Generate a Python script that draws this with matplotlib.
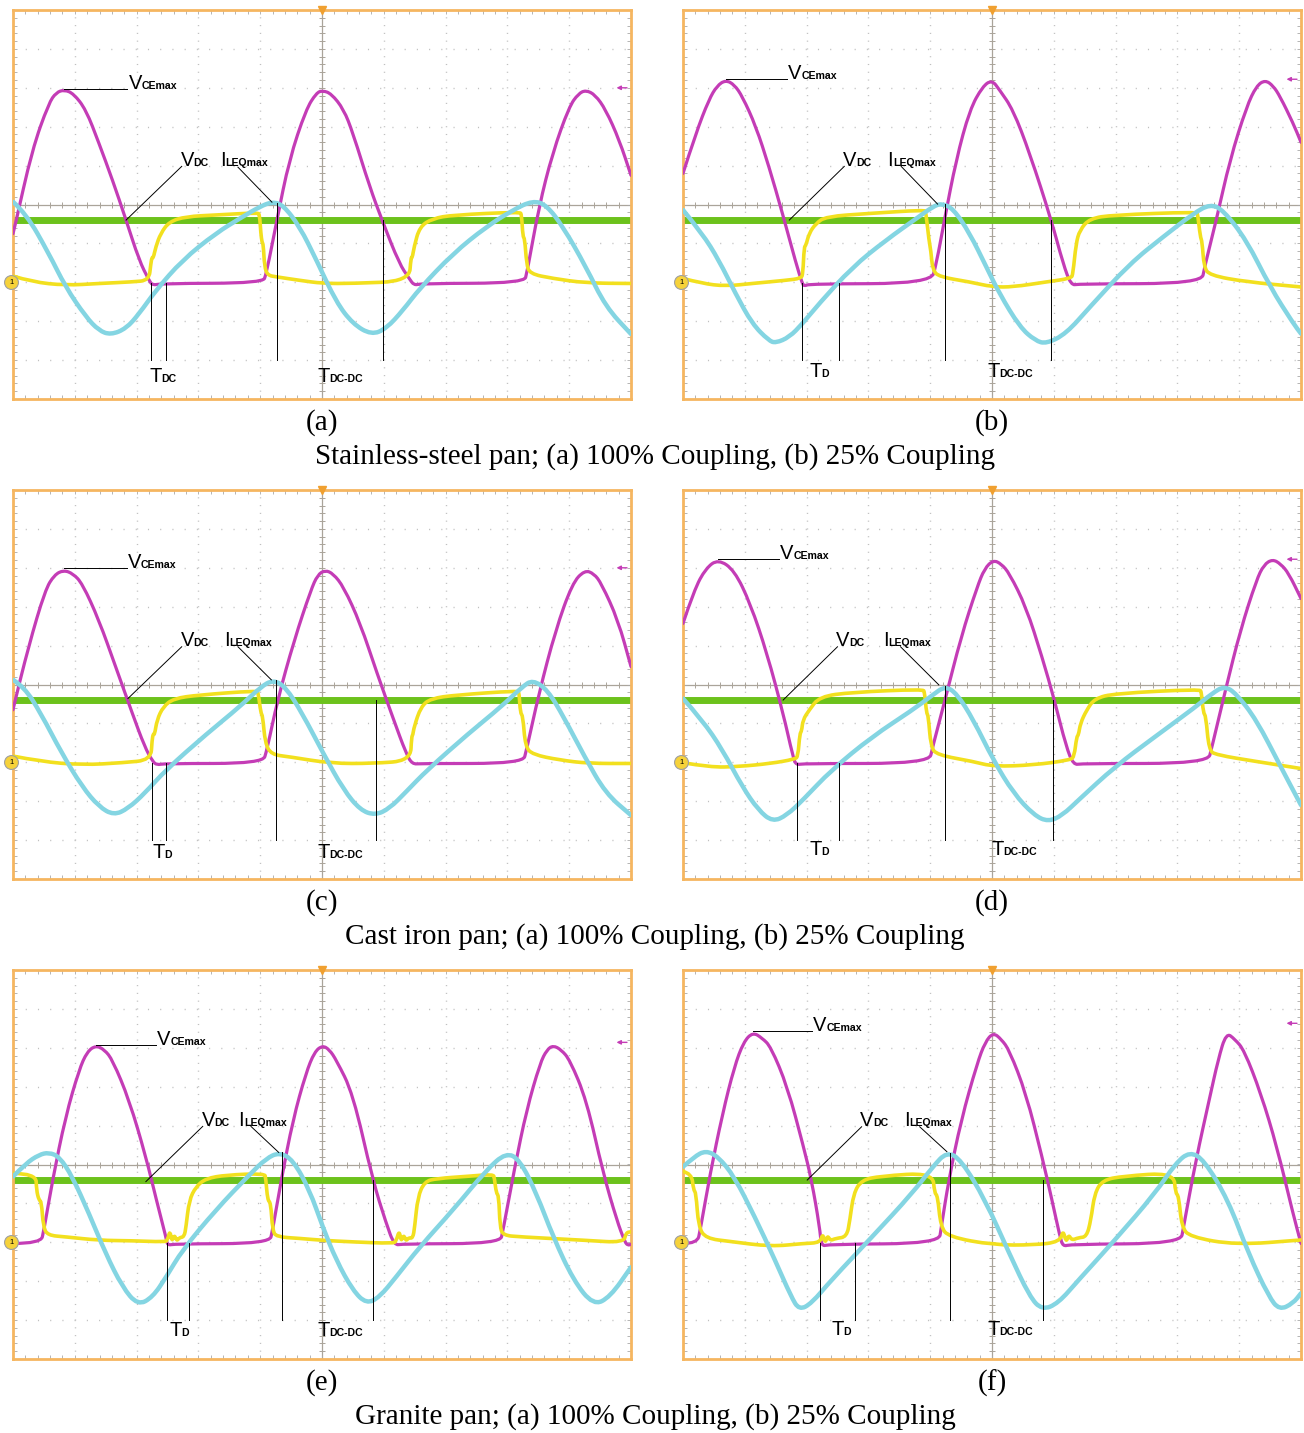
import matplotlib
matplotlib.use("Agg")
import matplotlib.pyplot as plt
from matplotlib.path import Path
from matplotlib.patches import PathPatch
import numpy as np

# ---- waveform data read off the scope shots: (time in div, level in div) ----
# panel (a) stainless-steel, 100 %
vce_a = [(0.0, -0.75), (0.03, -0.57), (0.31, 1.41), (0.58, 2.61), (0.70, 2.88), (0.83, 2.95), (0.98, 2.85),
         (1.18, 2.44), (1.39, 1.58), (1.61, 0.63), (1.83, -0.40), (2.04, -1.43), (2.20, -1.95), (2.26, -2.08),
         (2.40, -2.03), (4.04, -2.02), (4.10, -1.78), (4.27, -0.40), (4.47, 1.15), (4.74, 2.44), (4.91, 2.87),
         (5.01, 2.93), (5.15, 2.85), (5.35, 2.45), (5.50, 1.84), (5.77, 0.46), (5.98, -0.44), (6.25, -1.52),
         (6.41, -1.90), (6.49, -2.08), (6.60, -2.03), (8.27, -2.02), (8.32, -1.73), (8.51, -0.06), (8.73, 1.32),
         (9.00, 2.52), (9.15, 2.85), (9.27, 2.94), (9.42, 2.82), (9.59, 2.44), (9.81, 1.66), (10.0, 0.75)]
cur_a = [(0.0, 0.07), (0.21, -0.23), (0.58, -1.26), (0.85, -2.12), (1.18, -2.89), (1.39, -3.24), (1.58, -3.35),
         (1.83, -3.19), (2.04, -2.81), (2.31, -2.21), (2.74, -1.43), (3.28, -0.74), (3.72, -0.31), (3.99, -0.06),
         (4.19, 0.07), (4.37, -0.01), (4.64, -0.57), (4.91, -1.43), (5.23, -2.51), (5.50, -3.07), (5.80, -3.35),
         (6.04, -3.19), (6.31, -2.72), (6.58, -2.16), (7.12, -1.26), (7.66, -0.57), (8.09, -0.14), (8.41, 0.10),
         (8.63, -0.01), (8.90, -0.57), (9.27, -1.60), (9.59, -2.63), (10.0, -3.33)]
gate_a = [(0.0, -1.84), (0.31, -1.99), (0.85, -2.08), (1.39, -2.03), (1.93, -1.99), (2.20, -1.95), (2.23, -1.52),
          (2.25, -1.35), (2.27, -1.38), (2.31, -1.09), (2.39, -0.74), (2.53, -0.44), (2.80, -0.31), (3.28, -0.27),
          (3.96, -0.21), (3.99, -0.26), (4.01, -0.74), (4.03, -0.98), (4.05, -1.02), (4.07, -1.60), (4.12, -1.82),
          (4.26, -1.86), (4.64, -1.95), (5.01, -2.03), (5.50, -2.03), (6.41, -1.97), (6.44, -1.35), (6.46, -1.38),
          (6.49, -1.09), (6.58, -0.57), (6.79, -0.36), (7.12, -0.27), (8.20, -0.19), (8.23, -0.26), (8.25, -0.83),
          (8.28, -0.87), (8.31, -1.52), (8.36, -1.78), (8.73, -1.90), (9.27, -2.02), (10.0, -2.03)]

# panel (b) stainless-steel, 25 %
vce_b = [(0.0, 0.80), (0.21, 1.84), (0.42, 2.70), (0.55, 3.05), (0.69, 3.20), (0.83, 3.08), (0.96, 2.78),
         (1.18, 2.01), (1.39, 0.98), (1.61, -0.23), (1.83, -1.52), (1.93, -2.03), (1.96, -2.10), (2.05, -2.04),
         (4.01, -2.03), (4.10, -1.52), (4.23, -0.40), (4.42, 1.15), (4.64, 2.44), (4.85, 3.04), (5.00, 3.20),
         (5.12, 2.95), (5.34, 2.44), (5.61, 1.32), (5.96, -0.40), (6.15, -1.52), (6.28, -2.08), (6.40, -2.04),
         (8.39, -2.03), (8.44, -1.60), (8.63, -0.40), (8.85, 1.15), (9.12, 2.52), (9.28, 3.05), (9.42, 3.20),
         (9.55, 3.05), (9.66, 2.78), (9.87, 2.10), (10.0, 1.60)]
cur_b = [(0.0, -0.14), (0.31, -0.74), (0.58, -1.43), (0.85, -2.29), (1.12, -3.07), (1.39, -3.50), (1.50, -3.56),
         (1.72, -3.41), (1.93, -3.07), (2.20, -2.55), (2.74, -1.61), (3.28, -0.92), (3.82, -0.31), (4.04, -0.06),
         (4.18, 0.03), (4.37, -0.10), (4.64, -0.74), (4.91, -1.61), (5.12, -2.29), (5.45, -3.15), (5.70, -3.50),
         (5.88, -3.58), (6.20, -3.32), (6.58, -2.64), (7.23, -1.52), (7.77, -0.83), (8.26, -0.23), (8.53, 0.01),
         (8.74, -0.14), (9.12, -0.92), (9.50, -2.12), (9.88, -3.07), (10.0, -3.32)]
gate_b = [(0.0, -1.90), (0.31, -2.03), (0.69, -2.10), (1.12, -2.03), (1.66, -1.95), (1.91, -1.90), (1.94, -1.78),
          (1.96, -1.09), (1.99, -1.05), (2.04, -0.74), (2.15, -0.49), (2.31, -0.31), (3.01, -0.23), (3.91, -0.14),
          (3.93, -0.20), (3.98, -0.92), (4.01, -1.18), (4.04, -1.69), (4.15, -1.86), (4.64, -1.99), (5.01, -2.12),
          (5.34, -2.12), (5.88, -1.99), (6.28, -1.90), (6.31, -1.78), (6.36, -1.00), (6.42, -0.66), (6.58, -0.36),
          (6.96, -0.27), (8.31, -0.19), (8.33, -0.26), (8.37, -0.83), (8.40, -0.95), (8.43, -1.60), (8.52, -1.82),
          (9.12, -1.99), (10.0, -2.12)]

# panel (c) cast iron, 100 %
vce_c = [(0.0, -0.65), (0.01, -0.57), (0.25, 0.97), (0.52, 2.43), (0.67, 2.82), (0.82, 2.94), (0.97, 2.85),
         (1.12, 2.60), (1.39, 1.66), (1.66, 0.46), (1.93, -0.74), (2.13, -1.60), (2.26, -1.98), (2.33, -2.07),
         (2.45, -2.03), (4.04, -2.03), (4.11, -1.68), (4.28, -0.40), (4.55, 1.14), (4.82, 2.43), (4.93, 2.82),
         (5.05, 2.94), (5.18, 2.85), (5.35, 2.51), (5.62, 1.57), (5.89, 0.29), (6.16, -0.91), (6.36, -1.77),
         (6.46, -2.05), (6.60, -2.03), (8.25, -2.03), (8.31, -1.68), (8.51, -0.23), (8.78, 1.40), (9.05, 2.60),
         (9.25, 2.94), (9.40, 2.85), (9.52, 2.60), (9.79, 1.66), (10.0, 0.46)]
cur_c = [(0.0, 0.12), (0.18, -0.06), (0.45, -0.74), (0.79, -1.77), (1.12, -2.63), (1.39, -3.14), (1.63, -3.36),
         (1.86, -3.19), (2.13, -2.80), (2.47, -2.20), (3.14, -1.26), (3.67, -0.57), (4.01, -0.06), (4.21, 0.12),
         (4.41, -0.06), (4.68, -0.74), (5.02, -1.77), (5.35, -2.71), (5.62, -3.23), (5.86, -3.36), (6.09, -3.19),
         (6.36, -2.76), (6.70, -2.20), (7.37, -1.26), (7.90, -0.57), (8.24, -0.06), (8.41, 0.12), (8.65, -0.14),
         (8.91, -0.83), (9.25, -1.86), (9.59, -2.80), (10.0, -3.36)]
gate_c = [(0.0, -1.84), (0.45, -1.98), (1.12, -2.07), (1.79, -2.01), (2.23, -1.94), (2.25, -1.43), (2.27, -1.26),
          (2.29, -1.30), (2.33, -0.91), (2.43, -0.57), (2.60, -0.36), (3.00, -0.27), (3.94, -0.16), (3.97, -0.22),
          (4.01, -0.74), (4.04, -0.80), (4.08, -1.51), (4.18, -1.80), (4.48, -1.86), (5.15, -2.03), (5.82, -2.03),
          (6.43, -1.96), (6.45, -1.34), (6.47, -1.30), (6.49, -1.09), (6.60, -0.57), (6.76, -0.36), (7.17, -0.27),
          (8.17, -0.16), (8.19, -0.22), (8.21, -0.74), (8.25, -0.80), (8.29, -1.60), (8.41, -1.80), (8.84, -1.94),
          (9.31, -2.03), (10.0, -2.03)]

# panel (d) cast iron, 25 %
vce_d = [(0.0, 1.57), (0.18, 2.43), (0.37, 2.99), (0.57, 3.22), (0.83, 2.94), (1.09, 2.08), (1.36, 0.80),
         (1.62, -0.74), (1.78, -1.86), (1.83, -2.07), (1.95, -2.03), (3.98, -2.03), (4.04, -1.60), (4.24, -0.40),
         (4.50, 1.23), (4.76, 2.51), (4.88, 2.98), (5.02, 3.20), (5.15, 3.10), (5.28, 2.86), (5.55, 2.00),
         (5.81, 0.71), (6.01, -0.40), (6.20, -1.60), (6.32, -2.07), (6.45, -2.03), (8.49, -2.03), (8.56, -1.60),
         (8.79, -0.06), (9.02, 1.40), (9.28, 2.69), (9.40, 3.08), (9.54, 3.22), (9.67, 3.10), (9.80, 2.86),
         (10.0, 2.21)]
cur_d = [(0.0, -0.36), (0.31, -0.91), (0.64, -1.68), (0.96, -2.63), (1.22, -3.23), (1.45, -3.53), (1.68, -3.36),
         (1.94, -2.97), (2.40, -2.20), (3.06, -1.34), (3.71, -0.66), (4.04, -0.27), (4.24, -0.04), (4.43, -0.23),
         (4.70, -0.91), (5.02, -1.94), (5.35, -2.80), (5.68, -3.36), (5.91, -3.53), (6.14, -3.36), (6.40, -2.97),
         (6.99, -2.11), (7.64, -1.34), (8.30, -0.57), (8.56, -0.23), (8.76, -0.04), (8.95, -0.23), (9.28, -0.91),
         (9.67, -2.11), (10.0, -3.10)]
gate_d = [(0.0, -2.01), (0.44, -2.13), (0.90, -2.11), (1.42, -2.03), (1.81, -1.92), (1.86, -1.85), (1.89, -1.26),
          (1.92, -1.20), (1.94, -0.91), (2.04, -0.66), (2.21, -0.31), (2.73, -0.20), (3.88, -0.12), (3.91, -0.20),
          (3.94, -0.74), (3.97, -0.80), (4.01, -1.60), (4.11, -1.81), (4.70, -1.98), (5.02, -2.11), (5.68, -2.07),
          (6.27, -1.94), (6.33, -1.85), (6.37, -1.34), (6.40, -1.30), (6.43, -1.00), (6.53, -0.66), (6.66, -0.36),
          (6.99, -0.23), (8.36, -0.12), (8.39, -0.20), (8.42, -0.74), (8.46, -0.80), (8.51, -1.69), (8.63, -1.81),
          (9.28, -1.98), (10.0, -2.16)]

# panel (e) granite, 100 %
vce_e = [(0.0, -2.03), (0.45, -2.03), (0.50, -1.69), (0.64, -0.40), (0.85, 1.23), (1.07, 2.44), (1.20, 2.90),
         (1.34, 3.06), (1.48, 2.95), (1.61, 2.69), (1.88, 1.66), (2.15, 0.20), (2.32, -0.91), (2.48, -1.90),
         (2.50, -2.08), (2.62, -2.04), (4.15, -2.03), (4.20, -1.69), (4.34, -0.40), (4.53, 1.15), (4.74, 2.35),
         (4.88, 2.90), (5.01, 3.06), (5.12, 2.95), (5.23, 2.69), (5.50, 1.83), (5.82, -0.40), (6.04, -1.52),
         (6.17, -2.08), (6.30, -2.04), (7.88, -2.03), (7.93, -1.69), (8.12, -0.06), (8.31, 1.40), (8.53, 2.61),
         (8.64, 2.95), (8.74, 3.06), (8.87, 2.95), (9.01, 2.69), (9.28, 1.66), (9.55, -0.23), (9.77, -1.43),
         (9.90, -1.99), (9.95, -2.08), (10.0, -2.05)]
cur_e = [(0.0, -0.31), (0.21, 0.03), (0.42, 0.25), (0.58, 0.31), (0.75, 0.20), (0.96, -0.31), (1.23, -1.26),
         (1.50, -2.29), (1.77, -3.15), (2.02, -3.62), (2.26, -3.41), (2.48, -2.89), (2.74, -2.20), (3.28, -1.17),
         (3.82, -0.27), (4.10, 0.16), (4.31, 0.31), (4.53, 0.12), (4.80, -0.66), (5.01, -1.60), (5.23, -2.46),
         (5.50, -3.24), (5.72, -3.58), (5.93, -3.41), (6.20, -2.89), (6.58, -2.12), (7.12, -1.17), (7.66, -0.14),
         (7.98, 0.31), (8.20, 0.12), (8.47, -0.74), (8.74, -1.86), (9.07, -2.98), (9.39, -3.62), (9.66, -3.41),
         (10.0, -2.64)]
gate_e = [(0.0, -0.23), (0.37, -0.23), (0.38, -0.66), (0.42, -0.92), (0.46, -0.95), (0.49, -1.60), (0.56, -1.82),
          (0.85, -1.86), (1.39, -1.95), (1.93, -1.96), (2.45, -1.99), (2.50, -1.95), (2.54, -1.69), (2.57, -1.99),
          (2.61, -1.80), (2.65, -1.97), (2.69, -1.88), (2.77, -1.86), (2.80, -1.60), (2.85, -0.92), (2.96, -0.57),
          (3.12, -0.36), (3.45, -0.27), (4.07, -0.23), (4.09, -0.35), (4.12, -0.92), (4.17, -0.98), (4.20, -1.69),
          (4.26, -1.86), (4.64, -1.90), (5.01, -1.95), (5.50, -1.99), (6.15, -2.03), (6.20, -1.97), (6.25, -1.69),
          (6.28, -1.99), (6.32, -1.80), (6.36, -1.97), (6.40, -1.88), (6.47, -1.90), (6.50, -1.60), (6.55, -0.83),
          (6.66, -0.44), (6.85, -0.36), (7.39, -0.30), (7.77, -0.25), (7.79, -0.35), (7.82, -0.74), (7.86, -0.80),
          (7.88, -1.60), (7.93, -1.82), (8.20, -1.86), (9.28, -1.95), (9.88, -2.01), (9.92, -1.75), (10.0, -1.73)]

# panel (f) granite, 25 %
vce_f = [(0.0, -2.03), (0.23, -2.03), (0.28, -1.68), (0.44, -0.23), (0.64, 1.31), (0.83, 2.51), (0.98, 3.15),
         (1.13, 3.40), (1.28, 3.25), (1.42, 3.03), (1.69, 2.00), (1.95, 0.46), (2.08, -0.40), (2.21, -1.60),
         (2.24, -2.11), (2.35, -2.05), (4.14, -2.03), (4.18, -1.60), (4.30, -0.40), (4.50, 1.14), (4.76, 2.60),
         (4.89, 3.15), (5.02, 3.39), (5.15, 3.22), (5.28, 2.94), (5.55, 1.83), (5.81, 0.20), (5.97, -0.91),
         (6.10, -1.86), (6.15, -2.11), (6.27, -2.05), (8.05, -2.03), (8.10, -1.60), (8.30, 0.12), (8.52, 1.70),
         (8.66, 2.70), (8.79, 3.39), (8.93, 3.22), (9.08, 2.94), (9.35, 1.83), (9.61, 0.46), (9.87, -1.26),
         (10.0, -2.03)]
cur_f = [(0.0, -0.06), (0.18, 0.20), (0.37, 0.36), (0.57, 0.20), (0.83, -0.31), (1.16, -1.34), (1.49, -2.46),
         (1.75, -3.40), (1.88, -3.74), (2.08, -3.57), (2.40, -2.97), (3.06, -1.86), (3.71, -0.74), (4.04, -0.06),
         (4.27, 0.33), (4.50, 0.12), (4.89, -0.91), (5.28, -2.29), (5.61, -3.40), (5.81, -3.74), (6.07, -3.57),
         (6.40, -2.97), (6.99, -1.94), (7.64, -0.74), (7.97, 0.03), (8.20, 0.33), (8.43, 0.12), (8.82, -0.91),
         (9.15, -2.29), (9.48, -3.40), (9.65, -3.74), (9.87, -3.57), (10.0, -3.31)]
gate_f = [(0.0, -0.18), (0.14, -0.23), (0.17, -0.66), (0.21, -0.72), (0.25, -1.60), (0.37, -1.90), (0.77, -1.98),
          (1.42, -2.11), (1.95, -2.03), (2.22, -2.01), (2.26, -1.77), (2.30, -2.03), (2.34, -1.82), (2.38, -1.96),
          (2.47, -1.90), (2.65, -1.86), (2.70, -1.43), (2.76, -0.74), (2.89, -0.40), (3.19, -0.30), (4.04, -0.21),
          (4.07, -0.74), (4.12, -0.80), (4.17, -1.60), (4.30, -1.86), (5.02, -2.07), (5.68, -2.07), (6.10, -1.99),
          (6.15, -1.68), (6.20, -2.01), (6.24, -1.80), (6.29, -1.95), (6.40, -1.88), (6.53, -1.86), (6.60, -1.43),
          (6.66, -0.74), (6.79, -0.40), (7.12, -0.30), (7.94, -0.21), (7.97, -0.74), (8.02, -0.80), (8.07, -1.60),
          (8.20, -1.86), (8.95, -2.07), (10.0, -1.94)]

vdc_level = [-0.40, -0.40, -0.40, -0.40, -0.40, -0.40]

# ---- annotations (per panel a..f) ----
letters = ["(a)", "(b)", "(c)", "(d)", "(e)", "(f)"]
captions = ["Stainless-steel pan; (a) 100% Coupling, (b) 25% Coupling",
            "Cast iron pan; (a) 100% Coupling, (b) 25% Coupling",
            "Granite pan; (a) 100% Coupling, (b) 25% Coupling"]
vce_peak = [(0.83, 2.97), (0.69, 3.23), (0.82, 2.99), (0.57, 3.22), (1.34, 3.08), (1.13, 3.43)]
vce_label_x = [1.85, 1.68, 1.84, 1.55, 2.31, 2.09]
vdc_from = [(1.83, -0.40), (1.72, -0.40), (1.86, -0.36), (1.62, -0.40), (2.15, -0.44), (2.01, -0.40)]
vdc_to = [(2.73, 0.98), (2.61, 0.98), (2.73, 0.97), (2.50, 0.97), (3.07, 0.98), (2.89, 0.97)]
ileq_from = [(3.64, 0.96), (3.53, 0.98), (3.64, 0.97), (3.52, 0.97), (3.85, 0.98), (3.83, 0.97)]
ileq_to = [(4.19, 0.06), (4.12, 0.01), (4.18, 0.12), (4.14, -0.01), (4.30, 0.31), (4.27, 0.33)]
ileq_label_x = [3.35, 3.31, 3.41, 3.24, 3.65, 3.58]
td_lines = [(2.23, 2.47), (1.93, 2.53), (2.25, 2.47), (1.85, 2.52), (2.49, 2.85), (2.22, 2.78)]
td_label_x = [2.21, 2.04, 2.25, 2.04, 2.53, 2.40]
td_sub = ["DC", "D", "D", "D", "D", "D"]
t_baseline = [-4.57, -4.44, -4.47, -4.38, -4.40, -4.38]
ipk_line = [(4.27, 0.03), (4.24, 0.01), (4.26, 0.12), (4.24, -0.04), (4.35, 0.31), (4.32, 0.29)]
tdcdc_x = [5.99, 5.96, 5.88, 5.99, 5.83, 5.82]
tdcdc_label_x = [4.93, 4.93, 4.92, 4.99, 4.93, 4.92]
trig_level = [3.0, 3.22, 3.0, 3.22, 3.14, 3.63]

vce_all = [vce_a, vce_b, vce_c, vce_d, vce_e, vce_f]
cur_all = [cur_a, cur_b, cur_c, cur_d, cur_e, cur_f]
gate_all = [gate_a, gate_b, gate_c, gate_d, gate_e, gate_f]

MAG = "#c43cb6"
CYA = "#84d5e2"
GRN = "#6cc21c"
YEL = "#f2e01e"
ORANGE = "#f5b660"
SANS = "Liberation Sans"
SERIF = "Liberation Serif"

W, H = 1304, 1433
fig = plt.figure(figsize=(W / 100, H / 100), dpi=100)

# panel boxes in pixels (left, top)
lefts = [13, 683]
tops = [10, 490, 970]
pw, ph = 618, 389


def trace(ax, pts, color, lw, z):
    # quadratic curves through the read points, drawn by matplotlib's Path
    p = np.array(pts, dtype=float)
    verts = [p[0]]
    codes = [Path.MOVETO]
    for k in range(1, len(p) - 1):
        verts += [p[k], (p[k] + p[k + 1]) / 2]
        codes += [Path.CURVE3, Path.CURVE3]
    verts.append(p[-1])
    codes.append(Path.LINETO)
    ax.add_patch(PathPatch(Path(verts, codes), fill=False, edgecolor=color, lw=lw,
                           joinstyle="round", capstyle="round", zorder=z))


def sub_label(ax, x, y, big, small, wfac):
    ax.text(x, y, big, fontsize=14.5, family=SANS, va="baseline", ha="left", color="black")
    ax.annotate(small, xy=(x, y), xytext=(wfac * 14.5 - 0.2, 0), textcoords="offset points",
                fontsize=7.6, family=SANS, weight="bold", va="baseline", ha="left")


def scope_axes(ax):
    ax.set_xlim(0, 10)
    ax.set_ylim(-5, 5)
    for s in ax.spines.values():
        s.set_color(ORANGE)
        s.set_linewidth(2.0)
    ax.set_xticks(np.arange(0, 10.01, 0.2))
    ax.set_yticks(np.arange(-5, 5.01, 0.2))
    ax.tick_params(direction="in", length=3, width=0.6, color="#a8a8a8",
                   top=True, right=True, labelbottom=False, labelleft=False)
    for g in range(1, 10):
        if g != 5:
            ax.axvline(g, color="#c0c0c0", lw=1.0, ls=(0, (0.8, 4.8)), zorder=0)
    for g in range(-4, 5):
        if g != 0:
            ax.axhline(g, color="#c0c0c0", lw=1.0, ls=(0, (0.8, 8.0)), zorder=0)
    ax.axvline(5, color="#aaa49a", lw=0.9, zorder=0)
    ax.axhline(0, color="#aaa49a", lw=0.9, zorder=0)
    steps = np.arange(0.2, 10, 0.2)
    ax.plot(steps, np.zeros_like(steps), ls="none", marker="|", ms=5, mew=0.7, color="#aaa49a", zorder=0)
    vsteps = np.arange(-4.8, 5, 0.2)
    ax.plot(np.full_like(vsteps, 5), vsteps, ls="none", marker="_", ms=5, mew=0.7, color="#aaa49a", zorder=0)


for i in range(6):
    col, row = i % 2, i // 2
    x0, y0 = lefts[col], tops[row]
    ax = fig.add_axes([x0 / W, 1 - (y0 + ph) / H, pw / W, ph / H])
    scope_axes(ax)

    ax.axhline(vdc_level[i], color=GRN, lw=5.0, zorder=2)
    trace(ax, vce_all[i], MAG, 2.3, 3)
    trace(ax, gate_all[i], YEL, 2.6, 4)
    trace(ax, cur_all[i], CYA, 3.2, 5)

    # scope markers
    ax.plot([5], [5], marker="v", ms=6, color="#f0a030", clip_on=False, zorder=6)
    ax.annotate("", xy=(9.72, trig_level[i]), xytext=(9.98, trig_level[i]),
                arrowprops=dict(arrowstyle="-|>", color=MAG, lw=1.0, mutation_scale=6), zorder=6)
    ax.plot([-0.03], [-2.0], marker="o", ms=10, mfc="#f6d23a", mec="#a0a0a0", mew=0.8,
            clip_on=False, zorder=7)
    ax.text(-0.03, -2.0, "1", fontsize=5.5, family=SANS, ha="center", va="center", zorder=8)

    # annotation lines
    lk = dict(color="black", lw=0.7, zorder=6)
    px, py = vce_peak[i]
    ax.plot([px, vce_label_x[i]], [py, py], **lk)
    sub_label(ax, vce_label_x[i] + 0.02, py, "V", "CEmax", 0.667)
    ax.plot([vdc_from[i][0], vdc_to[i][0]], [vdc_from[i][1], vdc_to[i][1]], **lk)
    sub_label(ax, vdc_to[i][0] - 0.02, 1.0, "V", "DC", 0.667)
    ax.plot([ileq_from[i][0], ileq_to[i][0]], [ileq_from[i][1], ileq_to[i][1]], **lk)
    sub_label(ax, ileq_label_x[i], 1.0, "I", "LEQmax", 0.278)
    for tx in td_lines[i]:
        ax.plot([tx, tx], [-2.03, -4.0], **lk)
    sub_label(ax, td_label_x[i], t_baseline[i], "T", td_sub[i], 0.611)
    ax.plot([ipk_line[i][0]] * 2, [ipk_line[i][1], -4.0], **lk)
    ax.plot([tdcdc_x[i]] * 2, [vdc_level[i], -4.0], **lk)
    sub_label(ax, tdcdc_label_x[i], t_baseline[i], "T", "DC-DC", 0.611)

    fig.text((x0 + pw / 2) / W, 1 - (y0 + ph + 24) / H, letters[i], fontsize=21, family=SERIF,
             ha="center", va="center")

for r in range(3):
    fig.text(655 / W, 1 - (tops[r] + ph + 58) / H, captions[r], fontsize=21, family=SERIF,
             ha="center", va="center")

fig.savefig("out.png", dpi=100, facecolor="white")
